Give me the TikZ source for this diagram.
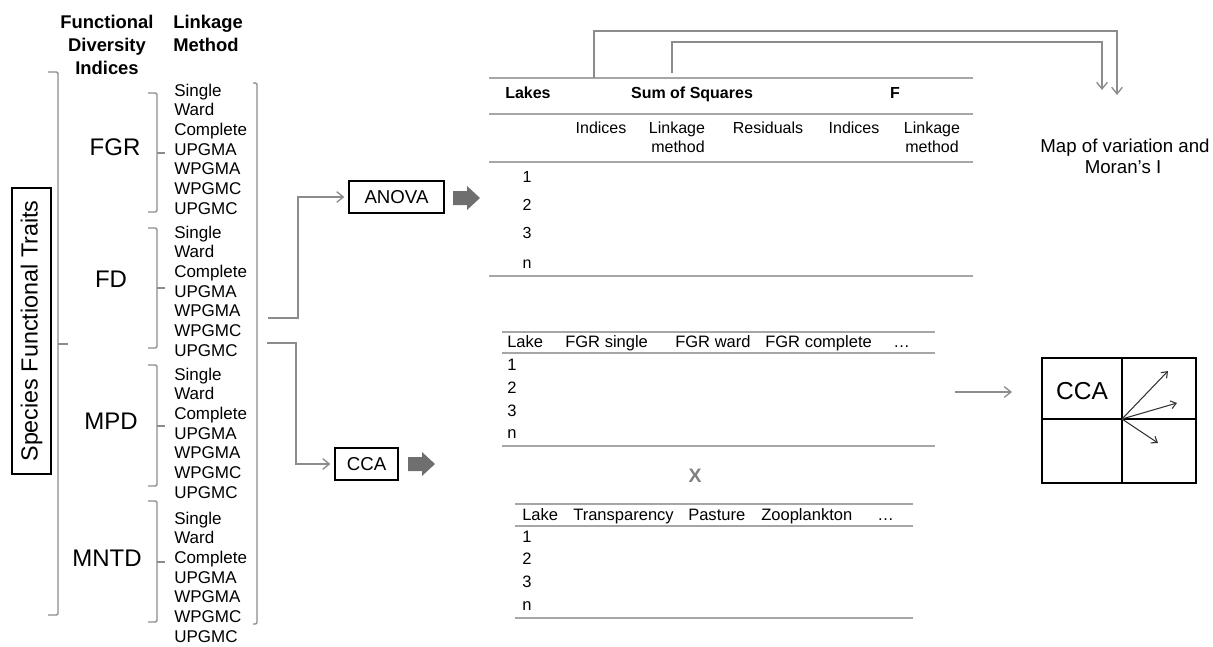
\documentclass[tikz,border=0pt]{standalone}
\usepackage{fontspec}
\setmainfont{Liberation Sans}
\usetikzlibrary{arrows.meta}
\definecolor{linegray}{HTML}{8C8C8C}
\definecolor{rulegray}{HTML}{A6A6A6}
\definecolor{arrowgray}{HTML}{6F6F6F}
\begin{document}
\begin{tikzpicture}[x = .75pt, y = -.75pt,
	brk/.style = {draw=linegray, line width=1.1pt, rounded corners=1pt},
	link/.style = {draw=linegray, line width=1pt, -{Straight Barb[length=5pt, width=8pt]}},
	rule/.style = {draw=rulegray, line width=1.9pt},
	colhead/.style = {font=\bfseries\fontsize{13.8}{16}\selectfont, inner sep=0, anchor=base},
	idx/.style = {font=\fontsize{18}{20}\selectfont, inner sep=0, anchor=base},
	method/.style = {font=\fontsize{12.75}{15}\selectfont, inner sep=0, anchor=base west},
	tbl/.style = {font=\fontsize{12}{14}\selectfont, inner sep=0, anchor=base},
	tblbold/.style = {tbl, font=\bfseries\fontsize{12}{14}\selectfont},
	cell/.style = {font=\fontsize{12.4}{14}\selectfont, inner sep=0, anchor=base west},
	testbox/.style = {draw, line width=.9pt, font=\fontsize{14}{16}\selectfont, minimum height=24pt, inner sep=0}]
	\useasboundingbox (0,0) rectangle (1213,646);

	% column headers
	\node[colhead] (fdi1) at (107,28) {Functional};
	\node[colhead] (fdi2) at (107,51) {Diversity};
	\node[colhead] (fdi3) at (107,74) {Indices};
	\node[colhead, anchor=base west] (lm1) at (173,28) {Linkage};
	\node[colhead, anchor=base west] (lm2) at (173,51) {Method};

	\node[draw, line width=1.5pt, rotate=90, minimum width=214.5pt, minimum height=29.25pt, inner sep=0,
		font=\fontsize{17.5}{20}\selectfont] (traits) at (31.5,331) {Species Functional Traits};
	\draw[brk] (48,72) -- (58,72) -- (58,615) -- (48,615); % brace to the indices
	\draw[brk] (58,344) -- (68,344);

	% indices and their linkage methods
	\foreach \name/\ix/\iy/\ya/\yb/\yc/\first in {FGR/115/155/93/153/212/96, FD/111/287/228/288/348/238,
		MPD/111/429/365/426/486/380, MNTD/107/566/501/562/622/524} {
		\node[idx] (\name) at (\ix,\iy) {\name};
		\draw[brk] (148,\ya) -- (157,\ya) -- (157,\yc) -- (148,\yc);
		\draw[brk] (157,\yb) -- (165,\yb);
		\foreach \m [count=\k] in {Single,Ward,Complete,UPGMA,WPGMA,WPGMC,UPGMC}
			\node[method] (\name-\k) at (174,\first+19.7*\k-19.7) {\m};
	}
	\draw[brk] (253,83) -- (257,83) -- (257,624) -- (253,624); % bracket round all methods

	% the two tests
	\coordinate (toAnova) at (268,318);
	\coordinate (toCca) at (267,343);
	\node[testbox, minimum width=71.25pt] (anova) at (396.5,197) {ANOVA};
	\node[testbox, minimum width=47.25pt] (cca) at (366.5,464) {CCA};
	\draw[link, shorten >=3pt] (toAnova) -- (298,318) |- (anova);
	\draw[link, shorten >=3pt] (toCca) -- (296,343) |- (cca);
	\foreach \ax/\ay in {453/198, 408/464}
		\fill[arrowgray] (\ax,\ay) ++(0,-7) -- ++(14,0) -- ++(0,-5) -- ++(13,12) -- ++(-13,12) -- ++(0,-5) -- ++(-14,0) -- cycle;

	% ANOVA table
	\foreach \ry in {78,114,162,276} \draw[rule] (489,\ry) -- (973,\ry);
	\node[tblbold, anchor=base west] (lakes) at (505,98) {Lakes};
	\node[tblbold] (sos) at (692,98) {Sum of Squares};
	\node[tblbold] (fval) at (895,98) {F};
	\foreach \s/\sx [count=\k] in {Indices/601, Linkage/677, Residuals/768, Indices/854, Linkage/932}
		\node[tbl] (sub-\k) at (\sx,133) {\s};
	\node[tbl] (sub-2b) at (678,152) {method};
	\node[tbl] (sub-5b) at (932,152) {method};
	\foreach \r/\ry in {1/182, 2/210, 3/238, n/268}
		\node[tbl] (lake-\r) at (527,\ry) {\r};

	% to the map
	\node[font=\fontsize{14}{16}\selectfont, inner sep=0, anchor=base] (map1) at (1125,152) {Map of variation and};
	\node[font=\fontsize{14}{16}\selectfont, inner sep=0, anchor=base] (map2) at (1123,173) {Moran's I};
	\coordinate (sosOut) at (594,78);
	\coordinate (lmOut) at (672,73);
	\coordinate (mapIn1) at (1117,95);
	\coordinate (mapIn2) at (1102,90);
	\draw[link] (sosOut) -- (594,31) -| (mapIn1);
	\draw[link] (lmOut) -- (672,42) -| (mapIn2);

	% CCA tables
	\foreach \ry in {332,353,446} \draw[rule] (502,\ry) -- (935,\ry);
	\foreach \h/\hx [count=\k] in {Lake/507, FGR single/565, FGR ward/675, FGR complete/765, …/893}
		\node[cell] (fd-h\k) at (\hx,347) {\h};
	\foreach \r/\ry in {1/370, 2/393, 3/416, n/438}
		\node[cell] (fd-\r) at (507,\ry) {\r};
	\node[font=\bfseries\fontsize{14.6}{16}\selectfont, text=gray, inner sep=0, anchor=base] (times) at (695,482) {X};
	\foreach \ry in {504,526,618} \draw[rule] (515,\ry) -- (913,\ry);
	\foreach \h/\hx [count=\k] in {Lake/522, Transparency/573, Pasture/688, Zooplankton/761, …/877}
		\node[cell] (env-h\k) at (\hx,520) {\h};
	\foreach \r/\ry in {1/542, 2/564, 3/587, n/610}
		\node[cell] (env-\r) at (522,\ry) {\r};

	% CCA plot
	\coordinate (ccaOut) at (955,392);
	\coordinate (plotIn) at (1012,392);
	\draw[link] (ccaOut) -- (plotIn);
	\node[draw, line width=1.5pt, minimum width=115.5pt, minimum height=93.75pt, inner sep=0] (plot) at (1119,420.5) {};
	\coordinate (origin) at (1122,419);
	\draw[line width=.8pt] (origin |- plot.north) -- (origin |- plot.south);
	\draw[line width=.8pt] (plot.west |- origin) -- (plot.east |- origin);
	\node[font=\fontsize{18.4}{20}\selectfont, inner sep=0] (plotLabel) at (1082,391) {CCA};
	\foreach \tx/\ty in {1168/371, 1177/403, 1158/443}
		\draw[line width=.8pt, draw=black!80, -{Straight Barb[length=4pt, width=6pt]}] (origin) -- (\tx,\ty);
\end{tikzpicture}
\end{document}
